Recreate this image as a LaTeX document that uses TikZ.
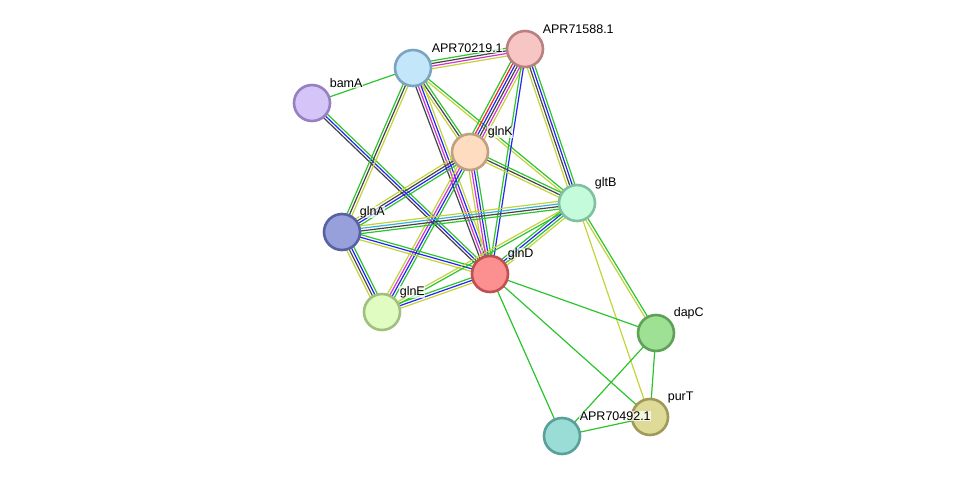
\documentclass[tikz,border=0pt]{standalone}
\usepackage{fontspec}
\setmainfont{Liberation Sans}
\usetikzlibrary{calc}
\definecolor{sgreen}{HTML}{2DC42D}
\definecolor{syel}{HTML}{C3D43A}
\definecolor{sdark}{HTML}{454545}
\definecolor{sblue}{HTML}{2626F2}
\definecolor{smag}{HTML}{D333D3}
\definecolor{scyan}{HTML}{36B2DA}
\definecolor{sred}{HTML}{F22626}
\pgfdeclarelayer{bg}
\pgfsetlayers{bg,main}
\newcommand\sedge[4]{%
  \foreach \c [count=\i] in {#4}{%
    \pgfmathsetmacro\off{(\i-(#3+1)/2)*2.6}%
    \draw[color=\c, line width=1.2pt] ($(#1.center)!\off pt!90:(#2.center)$) -- ($(#2.center)!\off pt!-90:(#1.center)$);
  }}
\tikzset{
  prot/.style={circle, minimum size=36pt, inner sep=0pt, line width=2.6pt},
  plabel/.style={anchor=west, font=\fontsize{12.5}{14}\selectfont, inner sep=0.6pt, fill=white, fill opacity=0.7, text opacity=1}
}
\begin{document}
\begin{tikzpicture}[x=1pt,y=-1pt]
\useasboundingbox (0,0) rectangle (975,482);
\node[prot, fill={rgb,255:red,247;green,197;blue,196}, draw={rgb,255:red,184;green,128;blue,128}] (r71588) at (525,49) {};
\node[prot, fill={rgb,255:red,196;green,230;blue,250}, draw={rgb,255:red,122;green,164;blue,192}] (r70219) at (413,68) {};
\node[prot, fill={rgb,255:red,212;green,196;blue,248}, draw={rgb,255:red,150;green,128;blue,192}] (bamA) at (312,103) {};
\node[prot, fill={rgb,255:red,253;green,220;blue,192}, draw={rgb,255:red,192;green,160;blue,128}] (glnK) at (470,152) {};
\node[prot, fill={rgb,255:red,196;green,251;blue,218}, draw={rgb,255:red,128;green,192;blue,160}] (gltB) at (577,203) {};
\node[prot, fill={rgb,255:red,152;green,160;blue,220}, draw={rgb,255:red,88;green,98;blue,160}] (glnA) at (342,232) {};
\node[prot, fill={rgb,255:red,252;green,144;blue,144}, draw={rgb,255:red,192;green,80;blue,80}] (glnD) at (490,274) {};
\node[prot, fill={rgb,255:red,224;green,252;blue,192}, draw={rgb,255:red,160;green,192;blue,128}] (glnE) at (382,312) {};
\node[prot, fill={rgb,255:red,158;green,224;blue,148}, draw={rgb,255:red,96;green,160;blue,88}] (dapC) at (656,333) {};
\node[prot, fill={rgb,255:red,222;green,219;blue,153}, draw={rgb,255:red,160;green,154;blue,88}] (purT) at (650,417) {};
\node[prot, fill={rgb,255:red,154;green,221;blue,214}, draw={rgb,255:red,88;green,160;blue,152}] (r70492) at (562,436) {};
\begin{pgfonlayer}{bg}
\sedge{bamA}{r70219}{1}{sgreen}
\sedge{bamA}{glnD}{3}{sdark,sblue,sgreen}
\sedge{r70219}{r71588}{4}{syel,smag,sdark,sgreen}
\sedge{r70219}{glnA}{3}{sgreen,sdark,syel}
\sedge{r70219}{glnK}{3}{syel,sdark,sgreen}
\sedge{r70219}{glnD}{4}{sdark,smag,sblue,syel}
\sedge{r70219}{gltB}{2}{syel,sgreen}
\sedge{r71588}{glnK}{6}{sgreen,sred,sblue,sdark,smag,syel}
\sedge{r71588}{glnD}{2}{sgreen,sblue}
\sedge{r71588}{gltB}{4}{syel,sdark,sblue,sgreen}
\sedge{glnK}{gltB}{3}{syel,sdark,sgreen}
\sedge{glnK}{glnA}{4}{syel,sdark,sblue,sgreen}
\sedge{glnK}{glnD}{4}{syel,smag,sblue,sgreen}
\sedge{glnK}{glnE}{4}{syel,smag,sblue,sgreen}
\sedge{glnA}{gltB}{4}{sgreen,sdark,scyan,syel}
\sedge{glnA}{glnD}{3}{syel,sblue,sgreen}
\sedge{glnA}{glnE}{4}{syel,sdark,sblue,sgreen}
\sedge{gltB}{glnD}{4}{sgreen,sblue,sgreen,syel}
\sedge{gltB}{glnE}{2}{syel,sgreen}
\sedge{gltB}{dapC}{2}{syel,sgreen}
\sedge{gltB}{purT}{1}{syel}
\sedge{glnD}{glnE}{3}{sgreen,sblue,syel}
\sedge{glnD}{dapC}{1}{sgreen}
\sedge{glnD}{purT}{1}{sgreen}
\sedge{glnD}{r70492}{1}{sgreen}
\sedge{dapC}{purT}{1}{sgreen}
\sedge{dapC}{r70492}{1}{sgreen}
\sedge{purT}{r70492}{1}{sgreen}
\end{pgfonlayer}
\node[plabel] (l71588) at (542,29) {APR71588.1};
\node[plabel] (l70219) at (431,48) {APR70219.1};
\node[plabel] (lbamA) at (329,83) {bamA};
\node[plabel] (lglnK) at (487,132) {glnK};
\node[plabel] (lgltB) at (594,183) {gltB};
\node[plabel] (lglnA) at (359,212) {glnA};
\node[plabel] (lglnD) at (507,254) {glnD};
\node[plabel] (lglnE) at (399,292) {glnE};
\node[plabel] (ldapC) at (673,313) {dapC};
\node[plabel] (lpurT) at (667,397) {purT};
\node[plabel] (l70492) at (579,416) {APR70492.1};
\end{tikzpicture}
\end{document}
